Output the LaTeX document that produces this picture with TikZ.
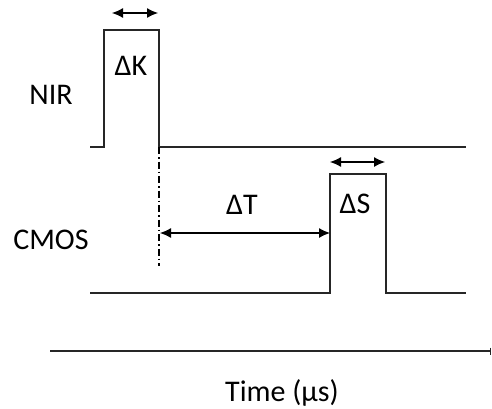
\documentclass[tikz,border=0pt]{standalone}
\usepackage{fontspec}
\setmainfont{Carlito}
\usetikzlibrary{arrows.meta,positioning,calc}
\tikzset{
  sig/.style={line width=1.4pt,black!85},
  span/.style={line width=1.1pt,{Latex[length=11pt,width=10pt]}-{Latex[length=11pt,width=10pt]}},
  lbl/.style={font=\fontsize{30}{34}\selectfont,inner sep=0pt,text height=19pt,text depth=0pt}
}
\begin{document}
\begin{tikzpicture}[x=1pt,y=-1pt]
  \useasboundingbox (0,0) rectangle (492,408);
  % NIR pulse
  \coordinate (n0) at (90,147);  \coordinate (n1) at (104,147);
  \coordinate (n2) at (104,30);  \coordinate (n3) at (159,30);
  \coordinate (n4) at (159,147); \coordinate (n5) at (466,147);
  \draw[sig] (n0) -- (n1) -- (n2) -- (n3) -- (n4) -- (n5);
  % CMOS pulse
  \coordinate (c0) at (90,293);  \coordinate (c1) at (330,293);
  \coordinate (c2) at (330,174); \coordinate (c3) at (386,174);
  \coordinate (c4) at (386,293); \coordinate (c5) at (466,293);
  \draw[sig] (c0) -- (c1) -- (c2) -- (c3) -- (c4) -- (c5);
  % marker and spans
  \coordinate (m) at (159,266);
  \draw[line width=1.2pt,dash pattern=on 7pt off 3pt on 1.5pt off 3pt] (n4) -- (m);
  \coordinate (t0) at (160,233); \coordinate (t1) at (330,233);
  \draw[span] (t0) -- (t1);
  \coordinate (k0) at (112,13); \coordinate (k1) at (158,13);
  \draw[span] (k0) -- (k1);
  \coordinate (s0) at (330,162); \coordinate (s1) at (385,162);
  \draw[span] (s0) -- (s1);
  % labels
  \node[lbl] (nir) at (51,95) {NIR};
  \node[lbl] (cmos) at (51,240) {CMOS};
  \node[lbl] (dk) at (131,66) {ΔK};
  \node[lbl] (dt) at (242,205) {ΔT};
  \node[lbl] (ds) at (355,204) {ΔS};
  % time axis
  \coordinate (a0) at (50,351); \coordinate (a1) at (491,351);
  \draw[line width=1.3pt,black!85,-{Bar[width=7pt,line width=1.3pt]}] (a0) -- (a1);
  \node[lbl] (time) at (282,392) {Time (μs)};
\end{tikzpicture}
\end{document}
